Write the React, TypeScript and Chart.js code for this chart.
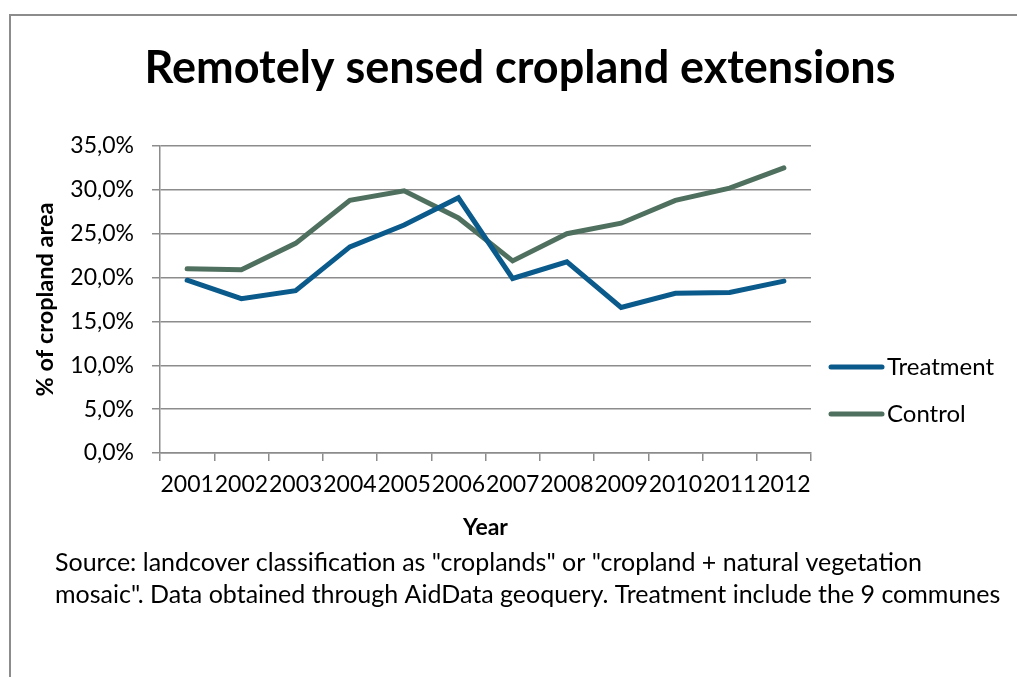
import { useEffect, useRef } from 'react';
import { Chart, registerables } from 'chart.js';

Chart.register(...registerables);

const titleText = 'Remotely sensed cropland extensions';
const years = ['2001', '2002', '2003', '2004', '2005', '2006', '2007', '2008', '2009', '2010', '2011', '2012'];
const treatment = [19.7, 17.6, 18.5, 23.5, 26.0, 29.1, 19.9, 21.8, 16.6, 18.2, 18.3, 19.6];
const control = [21.0, 20.9, 23.9, 28.8, 29.9, 26.8, 21.9, 25.0, 26.2, 28.8, 30.2, 32.5];
const seriesNames = ['Treatment', 'Control'];
const seriesColors = ['#0A5A8C', '#4F705F'];
const yMin = 0;
const yMax = 35;
const yStep = 5;
const yAxisTitle = '% of cropland area';
const xAxisTitle = 'Year';
const sourceLines = [
  'Source: landcover classification as "croplands" or "cropland + natural vegetation',
  'mosaic". Data obtained through AidData geoquery. Treatment include the 9 communes',
];

const FONT = 'Lato, "Open Sans", sans-serif';

const decor = {
  id: 'decor',
  beforeDraw(chart: any) {
    const ctx = chart.ctx;
    ctx.save();
    ctx.fillStyle = '#ffffff';
    ctx.fillRect(0, 0, chart.width, chart.height);
    ctx.strokeStyle = '#8c8c8c';
    ctx.lineWidth = 2;
    ctx.beginPath();
    ctx.moveTo(10, chart.height + 5);
    ctx.lineTo(10, 15);
    ctx.lineTo(chart.width + 5, 15);
    ctx.stroke();
    ctx.restore();
  },
  afterDraw(chart: any) {
    const ctx = chart.ctx;
    ctx.save();
    // title
    ctx.fillStyle = '#000';
    ctx.font = `bold 45px ${FONT}`;
    ctx.textAlign = 'center';
    ctx.textBaseline = 'alphabetic';
    ctx.fillText(titleText, 520, 83);
    // legend
    chart.data.datasets.forEach((ds: any, i: number) => {
      const y = 367 + i * 47;
      ctx.strokeStyle = ds.borderColor;
      ctx.lineWidth = 5;
      ctx.lineCap = 'round';
      ctx.beginPath();
      ctx.moveTo(831, y);
      ctx.lineTo(882, y);
      ctx.stroke();
      ctx.fillStyle = '#000';
      ctx.font = `24px ${FONT}`;
      ctx.textAlign = 'left';
      ctx.textBaseline = 'middle';
      ctx.fillText(ds.label, 887, y);
    });
    // source
    ctx.fillStyle = '#000';
    ctx.font = `25px ${FONT}`;
    ctx.textAlign = 'left';
    ctx.textBaseline = 'alphabetic';
    sourceLines.forEach((line, i) => {
      ctx.fillText(line, 55, 571 + i * 32);
    });
    ctx.restore();
  },
};

export default function App() {
  const ref = useRef<HTMLCanvasElement>(null);
  useEffect(() => {
    if (!ref.current) return;
    const chart = new Chart(ref.current, {
      type: 'line',
      data: {
        labels: years,
        datasets: [treatment, control].map((d, i) => ({
          label: seriesNames[i],
          data: d,
          borderColor: seriesColors[i],
          backgroundColor: seriesColors[i],
          borderWidth: 5,
          borderCapStyle: 'round',
          pointRadius: 0,
          tension: 0,
        })),
      },
      options: {
        responsive: false,
        animation: false,
        devicePixelRatio: 1,
        layout: { padding: { left: 0, right: 206, top: 146, bottom: 0 } },
        plugins: {
          legend: { display: false },
          title: { display: false },
          tooltip: { enabled: false },
        },
        scales: {
          x: {
            offset: true,
            afterFit: (s: any) => { s.height = 224; },
            grid: {
              offset: true,
              drawOnChartArea: false,
              drawTicks: true,
              tickLength: 8,
              color: '#8c8c8c',
              lineWidth: 1.5,
            },
            border: { color: '#8c8c8c', width: 1.5 },
            ticks: {
              autoSkip: false,
              maxRotation: 0,
              minRotation: 0,
              padding: 10,
              color: '#000',
              font: { family: FONT, size: 23 },
            },
            title: {
              display: true,
              text: xAxisTitle,
              color: '#000',
              font: { family: FONT, size: 23, weight: 'bold' },
              padding: { top: 0, bottom: 136 },
            },
          },
          y: {
            min: yMin,
            max: yMax,
            afterFit: (s: any) => { s.width = 160; },
            grid: {
              color: '#8c8c8c',
              lineWidth: 1.5,
              drawTicks: true,
              tickLength: 8,
            },
            border: { color: '#8c8c8c', width: 1.5 },
            ticks: {
              stepSize: yStep,
              padding: 18,
              color: '#000',
              font: { family: FONT, size: 23 },
              callback: (v: any) => Number(v).toFixed(1).replace('.', ',') + '%',
            },
            title: {
              display: true,
              text: yAxisTitle,
              color: '#000',
              font: { family: FONT, size: 23.5, weight: 'bold' },
              padding: { top: 31, bottom: 0 },
            },
          },
        },
      },
      plugins: [decor],
    });
    return () => chart.destroy();
  }, []);
  return (
    <canvas
      ref={ref}
      width={1017}
      height={677}
      style={{ position: 'absolute', left: 0, top: 0, width: 1017, height: 677 }}
    />
  );
}
